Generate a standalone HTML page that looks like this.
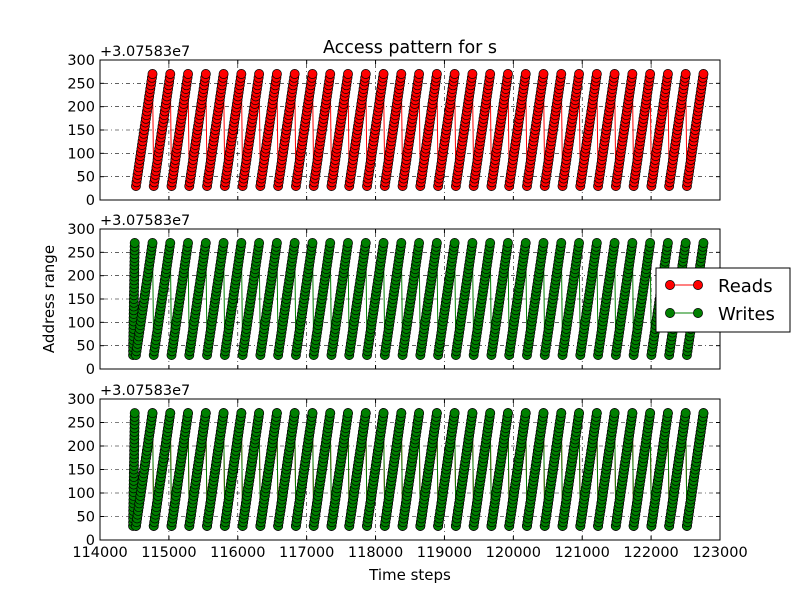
<!DOCTYPE html>
<html><head><meta charset="utf-8"><style>
body{margin:0;background:#fff}
svg{display:block;font-family:"DejaVu Sans","Liberation Sans",sans-serif}
</style></head><body>
<svg id="chart" width="800" height="600" viewBox="0 0 800 600"></svg>
<script>
// ---- data ----
const cycleStarts = [114522,114780,115038,115296,115554,115812,116070,116328,116586,116844,117102,117360,117618,117876,118134,118392,118650,118908,119166,119424,119682,119940,120198,120456,120714,120972,121230,121488,121746,122004,122262,122520];
const addresses = [30,38,46,54,62,70,78,86,94,102,110,118,126,134,142,150,158,166,174,182,190,198,206,214,222,230,238,246,254,262,270];
const stepPerAddress = [8];
const writeColumnTime = [114480];
const xTicks = [114000,115000,116000,117000,118000,119000,120000,121000,122000,123000];
const yTicks = [0,50,100,150,200,250,300];

// build series
const readsT=[],readsA=[];
cycleStarts.forEach(s=>addresses.forEach((a,i)=>{readsT.push(s+i*stepPerAddress[0]);readsA.push(a);}));
const writesT=[],writesA=[];
addresses.forEach((a,i)=>{writesT.push(writeColumnTime[0]+i*0.8);writesA.push(a);});
readsT.forEach((t,i)=>{writesT.push(t);writesA.push(readsA[i]);});

const NS="http://www.w3.org/2000/svg";
const svg=document.getElementById('chart');
function mk(tag,attrs,parent){const e=document.createElementNS(NS,tag);for(const k in attrs)e.setAttribute(k,attrs[k]);(parent||svg).appendChild(e);return e;}
const X0=100,X1=720,xmin=114000,xmax=123000;
const xs=v=>X0+(v-xmin)/(xmax-xmin)*(X1-X0);

const panels=[{top:60,bot:200,name:'reads-panel',series:['r']},{top:229,bot:369,name:'writes-panel',series:['w']},{top:399,bot:540,name:'combined-panel',series:['r','w']}];
panels.forEach((p,pi)=>{
  const ys=v=>p.bot-(v/300)*(p.bot-p.top);
  const g=mk('g',{});
  
  
  const clipId='clip'+pi;
  const cp=mk('clipPath',{id:clipId},g);mk('rect',{x:X0,y:p.top,width:X1-X0,height:p.bot-p.top},cp);
  yTicks.forEach(v=>{if(v>0&&v<300){const l=mk('line',{x1:X0,x2:X1,y1:ys(v),y2:ys(v),stroke:'#000','stroke-width':0.6,'stroke-dasharray':'1,3,4,3'},g);}});
  xTicks.forEach(v=>{if(v>xmin&&v<xmax){const l=mk('line',{x1:xs(v),x2:xs(v),y1:p.top,y2:p.bot,stroke:'#000','stroke-width':0.6,'stroke-dasharray':'1,3,4,3'},g);}});
  const sg=mk('g',{'clip-path':'url(#'+clipId+')'},g);
  p.series.forEach(s=>{
    const T=s==='r'?readsT:writesT,A=s==='r'?readsA:writesA,col=s==='r'?'#ff0000':'#008000';
    const pts=T.map((t,i)=>xs(t).toFixed(1)+','+ys(A[i]).toFixed(1)).join(' ');
    const pl=mk('polyline',{points:pts,fill:'none',stroke:col,'stroke-width':1},sg);
    
    
    T.forEach((t,i)=>{const c=mk('circle',{cx:xs(t),cy:ys(A[i]),r:4.6,fill:col,stroke:'#000','stroke-width':0.7},sg);
      
      });
  });
  const fr=mk('rect',{x:X0,y:p.top,width:X1-X0,height:p.bot-p.top,fill:'none',stroke:'#000','stroke-width':1},g);
  
  yTicks.forEach(v=>{
    mk('line',{x1:X0,x2:X0+4,y1:ys(v),y2:ys(v),stroke:'#000'},g);
    mk('line',{x1:X1,x2:X1-4,y1:ys(v),y2:ys(v),stroke:'#000'},g);
    const t=mk('text',{x:X0-5,y:ys(v)+5,'text-anchor':'end','font-size':14.5},g);t.textContent=v;
    
  });
  xTicks.forEach(v=>{
    mk('line',{x1:xs(v),x2:xs(v),y1:p.bot,y2:p.bot-4,stroke:'#000'},g);
    mk('line',{x1:xs(v),x2:xs(v),y1:p.top,y2:p.top+4,stroke:'#000'},g);
    if(pi===2){const t=mk('text',{x:xs(v),y:p.bot+17,'text-anchor':'middle','font-size':14.5},g);t.textContent=v;
      }
  });
  const off=mk('text',{x:X0,y:p.top-4,'font-size':14.5},g);off.textContent='+3.07583e7';
  
});
const title=mk('text',{x:410,y:53,'text-anchor':'middle','font-size':17.5});title.textContent='Access pattern for s';

const xl=mk('text',{x:410,y:580,'text-anchor':'middle','font-size':15});xl.textContent='Time steps';

const yl=mk('text',{x:54,y:299,'text-anchor':'middle','font-size':15,transform:'rotate(-90 54 299)'});yl.textContent='Address range';

const lg=mk('g',{});

mk('rect',{x:656,y:268,width:134,height:64,fill:'#fff',stroke:'#000','stroke-width':1},lg);
[['Reads','#ff0000',285],['Writes','#008000',313]].forEach(([n,c,y])=>{
  const e=mk('g',{},lg);
  
  mk('line',{x1:670,x2:698,y1:y,y2:y,stroke:c},e);
  mk('circle',{cx:670,cy:y,r:4.6,fill:c,stroke:'#000','stroke-width':0.7},e);
  mk('circle',{cx:698,cy:y,r:4.6,fill:c,stroke:'#000','stroke-width':0.7},e);
  const t=mk('text',{x:718,y:y+7,'font-size':18},e);t.textContent=n;
});
</script>
</body></html>
